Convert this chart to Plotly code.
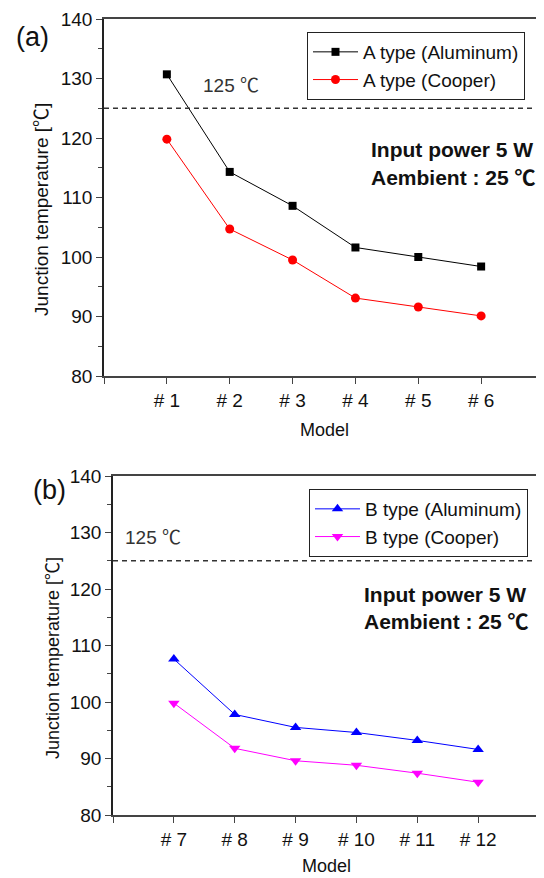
import plotly.graph_objects as go

# ---- data ----
models_a = ["# 1", "# 2", "# 3", "# 4", "# 5", "# 6"]
a_aluminum = [130.7, 114.3, 108.6, 101.6, 100.0, 98.4]
a_copper = [119.8, 104.7, 99.5, 93.1, 91.6, 90.1]

models_b = ["# 7", "# 8", "# 9", "# 10", "# 11", "# 12"]
b_aluminum = [107.6, 97.8, 95.5, 94.6, 93.2, 91.6]
b_copper = [99.8, 91.8, 89.6, 88.8, 87.4, 85.8]

limit_temp = 125
y_ticks = [80, 90, 100, 110, 120, 130, 140]

FONT = "Arial, Liberation Sans, Noto Sans CJK KR, sans-serif"
OFF = 8  # page body margin
W, H = 544 - OFF, 878 - OFF

def px_x(p):
    return (p - OFF) / W

def px_y(p):
    return 1 - (p - OFF) / H

xa = list(range(1, len(models_a) + 1))
xb = list(range(1, len(models_b) + 1))

fig = go.Figure()
fig.add_trace(go.Scatter(x=xa, y=a_aluminum, name="A type (Aluminum)", mode="lines+markers",
                         line=dict(color="black", width=1), marker=dict(symbol="square", size=8, color="black"),
                         xaxis="x", yaxis="y", legend="legend"))
fig.add_trace(go.Scatter(x=xa, y=a_copper, name="A type (Cooper)", mode="lines+markers",
                         line=dict(color="red", width=1), marker=dict(symbol="circle", size=9, color="red"),
                         xaxis="x", yaxis="y", legend="legend"))
fig.add_trace(go.Scatter(x=xb, y=b_aluminum, name="B type (Aluminum)", mode="lines+markers",
                         line=dict(color="blue", width=1), marker=dict(symbol="triangle-up", size=10, color="blue"),
                         xaxis="x2", yaxis="y2", legend="legend2"))
fig.add_trace(go.Scatter(x=xb, y=b_copper, name="B type (Cooper)", mode="lines+markers",
                         line=dict(color="magenta", width=1), marker=dict(symbol="triangle-down", size=10, color="magenta"),
                         xaxis="x2", yaxis="y2", legend="legend2"))

def xaxis_cfg(domain, cats, anchor, mirror):
    return dict(domain=domain, anchor=anchor, range=[0, len(cats) + 1], automargin=False,
                tickvals=list(range(0, len(cats) + 2)), ticktext=[""] + cats + [""],
                showline=True, linecolor="#444", linewidth=1.5, mirror=mirror,
                ticks="outside", ticklen=6, tickcolor="#444", tickwidth=1.3,
                tickfont=dict(family=FONT, size=19, color="#111"), showgrid=False, zeroline=False)

def yaxis_cfg(domain, anchor, mirror):
    return dict(domain=domain, anchor=anchor, range=[80, 140], tickvals=y_ticks, automargin=False,
                showline=True, linecolor="#222", linewidth=1.5, mirror=mirror,
                ticks="outside", ticklen=6, tickcolor="#444", tickwidth=1.3,
                minor=dict(ticks="outside", ticklen=4, dtick=5, tickcolor="#444", tickwidth=1.2, showgrid=False),
                tickfont=dict(family=FONT, size=19, color="#111"), showgrid=False, zeroline=False)

top_y = [px_y(376), px_y(19)]
bot_y = [px_y(815), px_y(476)]

legend_common = dict(xanchor="left", yanchor="top", bordercolor="#222", borderwidth=1, bgcolor="white",
                     font=dict(family=FONT, size=19, color="#111"), tracegroupgap=0, itemwidth=45)

fig.update_layout(
    template="none",
    width=W, height=H, margin=dict(l=0, r=0, t=0, b=0, autoexpand=False),
    paper_bgcolor="white", plot_bgcolor="white",
    font=dict(family=FONT, color="#111"),
    xaxis=xaxis_cfg([px_x(104), 1.0], models_a, "y", True),
    yaxis=yaxis_cfg(top_y, "x", False),
    xaxis2=xaxis_cfg([px_x(113), px_x(539)], models_b, "y2", True),
    yaxis2=yaxis_cfg(bot_y, "x2", True),
    legend=dict(legend_common, x=px_x(307), y=px_y(32)),
    legend2=dict(legend_common, x=px_x(309), y=px_y(489)),
    showlegend=True,
)

# limit lines
for xr, yr, n in (("x", "y", len(models_a)), ("x2", "y2", len(models_b))):
    fig.add_shape(type="line", xref=xr, yref=yr, x0=0, x1=n + 1, y0=limit_temp, y1=limit_temp,
                  line=dict(color="#333", width=1.5, dash="5px,4px"))

ann = []
def txt(text, x, y, size=18, bold=False, xanchor="center", angle=0, color="#111"):
    ann.append(dict(text=f"<b>{text}</b>" if bold else text, x=x, y=y, xref="paper", yref="paper",
                    xanchor=xanchor, yanchor="middle", showarrow=False, textangle=angle,
                    font=dict(family=FONT, size=size, color=color)))

# panel (a)
txt("(a)", px_x(32), px_y(37), size=27)
txt("125 ℃", px_x(231), px_y(85), size=19, color="#333")
txt("Input power 5 W", px_x(369), px_y(150), size=21, bold=True, xanchor="left")
txt("Aembient : 25 ℃", px_x(369), px_y(177), size=21, bold=True, xanchor="left")
txt("Junction temperature [℃]", px_x(42), px_y(210), size=19, angle=-90)
txt("Model", px_x(324), px_y(430), size=18)

# panel (b)
txt("(b)", px_x(49), px_y(490), size=27)
txt("125 ℃", px_x(153), px_y(537), size=19, color="#333")
txt("Input power 5 W", px_x(362), px_y(594), size=21, bold=True, xanchor="left")
txt("Aembient : 25 ℃", px_x(362), px_y(621), size=21, bold=True, xanchor="left")
txt("Junction temperature [℃]", px_x(53), px_y(658), size=18, angle=-90)
txt("Model", px_x(326), px_y(866), size=18)

fig.update_layout(annotations=ann)
fig.write_html("out.html")
